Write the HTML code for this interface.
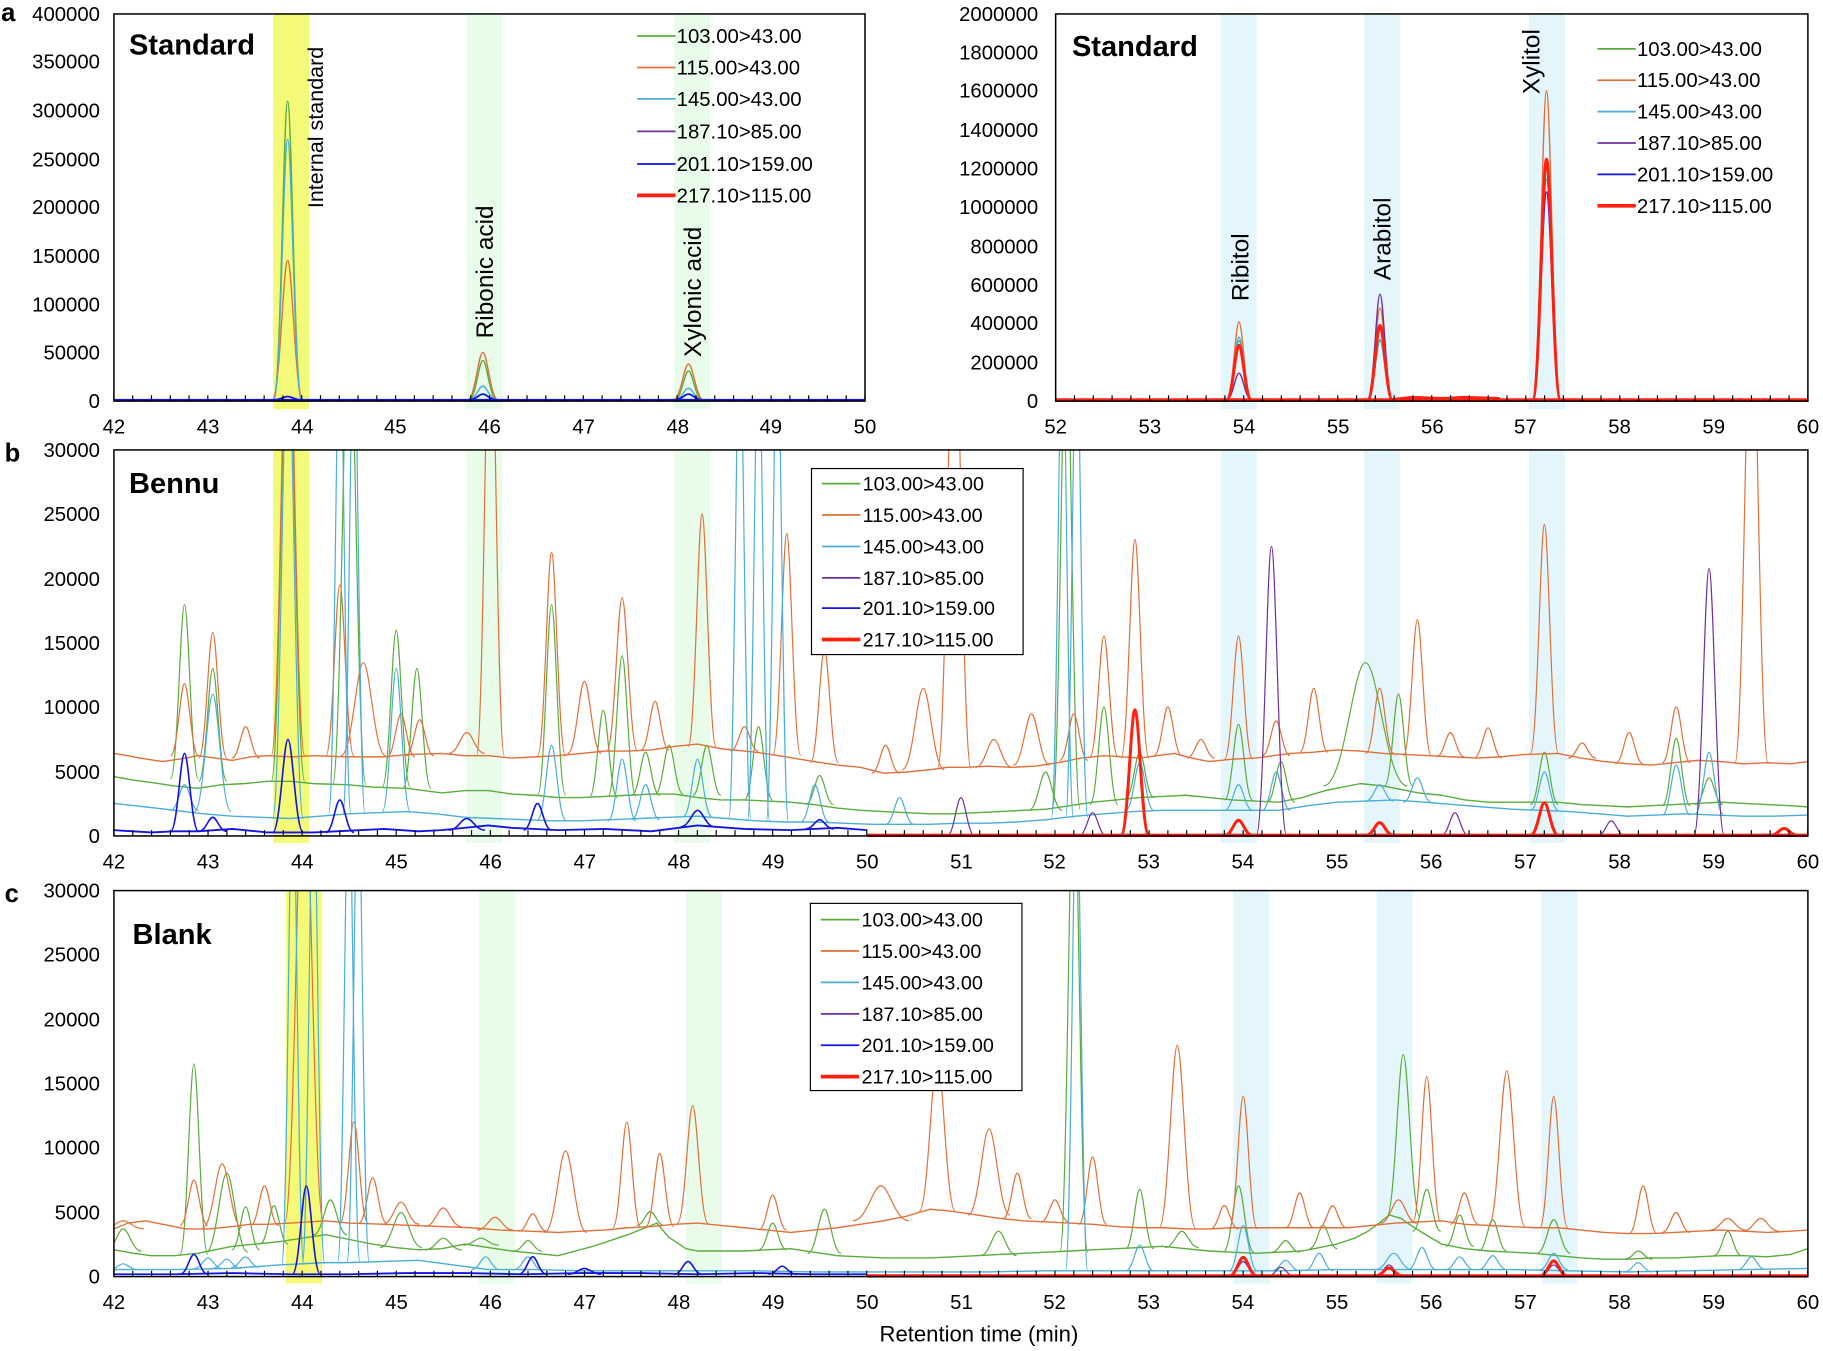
<!DOCTYPE html>
<html><head><meta charset="utf-8">
<style>
html,body{margin:0;padding:0;background:#fff;}
svg{display:block;}
text{font-family:"Liberation Sans",Arial,sans-serif;fill:#000;}
.lg{font-size:17px;}
.nt{font-size:17.5px;}
.ttl{font-size:25px;font-weight:bold;}
.pl{font-size:22px;font-weight:bold;}
.rl{font-size:21px;}
</style></head>
<body>
<svg width="1823" height="1351" viewBox="0 0 1568 1162" xmlns="http://www.w3.org/2000/svg" xmlns:xlink="http://www.w3.org/1999/xlink">
<defs>
<clipPath id="ca1"><rect x="98" y="12" width="646" height="334"/></clipPath>
<clipPath id="ca2"><rect x="908" y="12" width="647" height="334"/></clipPath>
<clipPath id="cb"><rect x="98" y="387" width="1457" height="333"/></clipPath>
<clipPath id="cc"><rect x="98" y="766" width="1457" height="333"/></clipPath>
<path id="k" d="M-12,0 C-6,0 -3.6,-1 0,-1 C3.6,-1 6,0 12,0" fill="none" vector-effect="non-scaling-stroke"/>
</defs>
<!-- bands -->
<rect x="235" y="12" width="31" height="340" fill="#f4fa78"/>
<rect x="401" y="12" width="31" height="340" fill="#e9fbe9"/>
<rect x="580" y="12" width="31" height="340" fill="#e9fbe9"/>
<rect x="1050" y="12" width="31" height="340" fill="#e4f6fb"/>
<rect x="1173" y="12" width="31" height="340" fill="#e4f6fb"/>
<rect x="1315" y="12" width="31" height="340" fill="#e4f6fb"/>
<rect x="235" y="387" width="31" height="338" fill="#f4fa78"/>
<rect x="401" y="387" width="31" height="338" fill="#e9fbe9"/>
<rect x="580" y="387" width="31" height="338" fill="#e9fbe9"/>
<rect x="1050" y="387" width="31" height="338" fill="#e4f6fb"/>
<rect x="1173" y="387" width="31" height="338" fill="#e4f6fb"/>
<rect x="1315" y="387" width="31" height="338" fill="#e4f6fb"/>
<rect x="246" y="766" width="31" height="338" fill="#f4fa78"/>
<rect x="412" y="766" width="31" height="338" fill="#e9fbe9"/>
<rect x="590" y="766" width="31" height="338" fill="#e9fbe9"/>
<rect x="1061" y="766" width="31" height="338" fill="#e4f6fb"/>
<rect x="1184" y="766" width="31" height="338" fill="#e4f6fb"/>
<rect x="1326" y="766" width="31" height="338" fill="#e4f6fb"/>

<!-- ===== Panel a-left ===== -->
<g clip-path="url(#ca1)" fill="none" stroke-width="1.4">
<g stroke="#5aac3c"><use xlink:href="#k" transform="translate(247.4 344) scale(1 257)"/><use xlink:href="#k" transform="translate(415.3 344) scale(1 34)"/><use xlink:href="#k" transform="translate(592.2 344) scale(1 25)"/></g>
<g stroke="#e0703a"><use xlink:href="#k" transform="translate(247.4 344) scale(1.1 120)"/><use xlink:href="#k" transform="translate(415.3 344) scale(1.1 41)"/><use xlink:href="#k" transform="translate(592.2 344) scale(1.1 31)"/></g>
<g stroke="#4aaed8"><use xlink:href="#k" transform="translate(247.4 344) scale(1 224)"/><use xlink:href="#k" transform="translate(415.3 344) scale(1 12)"/><use xlink:href="#k" transform="translate(592.2 344) scale(1 10)"/></g>
<g stroke="#1414e0" stroke-width="1.8"><line x1="98" y1="344" x2="744" y2="344"/><use xlink:href="#k" transform="translate(247.4 344) scale(1 3)"/><use xlink:href="#k" transform="translate(415.3 344) scale(1 5)"/><use xlink:href="#k" transform="translate(592.2 344) scale(1 5)"/></g>
</g>

<!-- ===== Panel a-right ===== -->
<g clip-path="url(#ca2)" fill="none" stroke-width="1.4">
<g stroke="#5aac3c"><use xlink:href="#k" transform="translate(1065.7 344) scale(0.9 51)"/><use xlink:href="#k" transform="translate(1187 344) scale(0.9 51)"/><use xlink:href="#k" transform="translate(1330.2 344) scale(1 190)"/></g>
<g stroke="#e0703a"><use xlink:href="#k" transform="translate(1065.7 344) scale(0.9 67)"/><use xlink:href="#k" transform="translate(1187 344) scale(0.9 79)"/><use xlink:href="#k" transform="translate(1330.2 344) scale(1 266)"/></g>
<g stroke="#4aaed8"><use xlink:href="#k" transform="translate(1065.7 344) scale(0.9 54)"/><use xlink:href="#k" transform="translate(1187 344) scale(0.9 52)"/><use xlink:href="#k" transform="translate(1330.2 344) scale(1 190)"/></g>
<g stroke="#7030a0"><use xlink:href="#k" transform="translate(1065.7 344) scale(0.9 23)"/><use xlink:href="#k" transform="translate(1187 344) scale(0.9 91)"/></g>
<g stroke="#1414e0"><use xlink:href="#k" transform="translate(1330.2 344) scale(1 179)"/></g>
<g stroke="#ff2010" stroke-width="3"><line x1="908" y1="344" x2="1555" y2="344"/><use xlink:href="#k" transform="translate(1065.7 344) scale(0.9 47)"/><use xlink:href="#k" transform="translate(1187 344) scale(0.9 64)"/><use xlink:href="#k" transform="translate(1330.2 344) scale(1 207)"/><polyline points="1195,344 1215,342 1240,343 1260,342 1290,343"/></g>
</g>

<!-- ===== Panel b ===== -->
<g clip-path="url(#cb)" fill="none" stroke-width="1.2" stroke-linejoin="round">
<g stroke="#5aac3c">
<polyline points="98,668 115,671 130,673 150,676 170,678 190,675 210,674 230,672 250,672 270,674 300,675 320,677 350,678 380,682 400,680 420,680 440,683 460,684 480,686 500,686 520,685 540,684 560,683 580,683 600,686 620,688 640,688 660,689 680,690 700,692 720,695 740,697 760,698 780,699 800,700 820,700 840,699 860,698 880,697 900,696 920,693 940,690 960,688 980,686 1000,685 1020,684 1040,686 1060,688 1080,689 1100,690 1120,686 1140,680 1160,676 1170,674 1190,676 1200,678 1220,682 1240,684 1260,688 1280,690 1300,690 1320,690 1340,690 1360,692 1380,693 1400,694 1420,693 1440,692 1460,691 1480,690 1500,691 1520,692 1540,693 1555,694"/>
<use xlink:href="#k" transform="translate(158.7 670) scale(1 150)"/><use xlink:href="#k" transform="translate(183 672) scale(1 97)"/>
<use xlink:href="#k" transform="translate(247.7 672) scale(1.2 420)"/><use xlink:href="#k" transform="translate(300.4 675) scale(1.2 420)"/>
<use xlink:href="#k" transform="translate(340.8 677) scale(1 135)"/><use xlink:href="#k" transform="translate(358.6 678) scale(1 103)"/>
<use xlink:href="#k" transform="translate(474.4 684) scale(1 164)"/><use xlink:href="#k" transform="translate(518.9 686) scale(1 75)"/>
<use xlink:href="#k" transform="translate(535.1 685) scale(1 121)"/><use xlink:href="#k" transform="translate(555.3 684) scale(1 37)"/>
<use xlink:href="#k" transform="translate(575.5 683) scale(1 42)"/><use xlink:href="#k" transform="translate(608 684) scale(1 43)"/>
<use xlink:href="#k" transform="translate(652.4 688) scale(1 63)"/><use xlink:href="#k" transform="translate(705 692) scale(1 25)"/>
<use xlink:href="#k" transform="translate(899.3 697) scale(1.2 33)"/><use xlink:href="#k" transform="translate(917.1 696) scale(1 420)"/>
<use xlink:href="#k" transform="translate(949.5 692) scale(1 84)"/><use xlink:href="#k" transform="translate(980.3 686) scale(1 39)"/>
<use xlink:href="#k" transform="translate(1065.3 688) scale(1 65)"/><use xlink:href="#k" transform="translate(1101.8 690) scale(1 35)"/>
<use xlink:href="#k" transform="translate(1174.5 676) scale(3 106)"/><use xlink:href="#k" transform="translate(1202.9 676) scale(1 79)"/>
<use xlink:href="#k" transform="translate(1328.4 692) scale(1 45)"/><use xlink:href="#k" transform="translate(1441.8 693) scale(1 58)"/>
<use xlink:href="#k" transform="translate(1470 692) scale(1 23)"/>
</g>
<g stroke="#e0703a">
<polyline points="98,648 110,650 120,652 140,655 160,652 170,650 185,652 200,654 215,651 230,650 250,651 270,650 300,651 330,651 350,649 380,648 400,650 420,650 440,652 460,651 480,650 500,648 520,646 540,646 560,645 580,642 600,640 620,644 640,646 650,647 670,650 700,655 720,658 740,660 760,665 780,664 800,662 815,660 830,660 850,659 870,660 890,659 910,656 930,652 950,650 980,652 995,650 1010,648 1025,652 1040,655 1060,653 1080,652 1095,650 1110,648 1130,647 1150,645 1170,646 1190,648 1210,649 1230,650 1250,651 1270,652 1290,651 1310,649 1340,648 1360,652 1380,655 1400,657 1420,658 1440,656 1460,654 1480,655 1500,657 1520,656 1540,657 1555,655"/>
<use xlink:href="#k" transform="translate(158.7 650) scale(1 62)"/><use xlink:href="#k" transform="translate(183 652) scale(1 108)"/>
<use xlink:href="#k" transform="translate(211.3 652) scale(1 27)"/><use xlink:href="#k" transform="translate(247.7 650) scale(1.2 420)"/>
<use xlink:href="#k" transform="translate(292.3 650) scale(1 147)"/><use xlink:href="#k" transform="translate(312.5 650) scale(1.6 80)"/>
<use xlink:href="#k" transform="translate(344.9 651) scale(1 37)"/><use xlink:href="#k" transform="translate(361 650) scale(1 31)"/>
<use xlink:href="#k" transform="translate(401.5 648) scale(1.3 18)"/><use xlink:href="#k" transform="translate(421.8 650) scale(1 420)"/>
<use xlink:href="#k" transform="translate(474.4 650) scale(1 175)"/><use xlink:href="#k" transform="translate(502.7 648) scale(1.2 62)"/>
<use xlink:href="#k" transform="translate(535.1 646) scale(1.1 132)"/><use xlink:href="#k" transform="translate(563.4 645) scale(1 42)"/>
<use xlink:href="#k" transform="translate(603.9 642) scale(1 200)"/><use xlink:href="#k" transform="translate(640.3 646) scale(1 21)"/>
<use xlink:href="#k" transform="translate(676.7 650) scale(1 191)"/><use xlink:href="#k" transform="translate(709.1 656) scale(1 97)"/>
<use xlink:href="#k" transform="translate(761.7 665) scale(1 24)"/><use xlink:href="#k" transform="translate(794.1 662) scale(1.5 70)"/>
<use xlink:href="#k" transform="translate(820.8 661) scale(1.2 420)"/><use xlink:href="#k" transform="translate(854.8 660) scale(1.3 24)"/>
<use xlink:href="#k" transform="translate(887.2 658) scale(1.3 44)"/><use xlink:href="#k" transform="translate(923.6 654) scale(1 40)"/>
<use xlink:href="#k" transform="translate(949.5 651) scale(1 104)"/><use xlink:href="#k" transform="translate(976.2 652) scale(1 188)"/>
<use xlink:href="#k" transform="translate(1004.5 650) scale(1 42)"/><use xlink:href="#k" transform="translate(1032.9 652) scale(1 16)"/>
<use xlink:href="#k" transform="translate(1065.3 653) scale(1 106)"/><use xlink:href="#k" transform="translate(1097.7 650) scale(1 30)"/>
<use xlink:href="#k" transform="translate(1130 647) scale(1 55)"/><use xlink:href="#k" transform="translate(1186.7 648) scale(1 56)"/>
<use xlink:href="#k" transform="translate(1219.1 650) scale(1 117)"/><use xlink:href="#k" transform="translate(1247.5 651) scale(1 21)"/>
<use xlink:href="#k" transform="translate(1279.9 652) scale(1 26)"/><use xlink:href="#k" transform="translate(1328.4 648) scale(1 197)"/>
<use xlink:href="#k" transform="translate(1360.8 652) scale(1 13)"/><use xlink:href="#k" transform="translate(1401.3 657) scale(1 27)"/>
<use xlink:href="#k" transform="translate(1441.8 656) scale(1 48)"/><use xlink:href="#k" transform="translate(1506.5 657) scale(1.2 420)"/>
</g>
<g stroke="#4aaed8">
<polyline points="98,691 125,694 150,697 175,700 200,702 225,703 250,704 275,702 300,700 325,699 350,698 375,700 400,703 425,704 450,705 475,706 500,706 525,705 550,704 575,703 600,702 625,704 650,706 675,707 700,707 725,708 750,709 775,709 800,709 825,708 850,708 875,707 900,705 925,702 950,700 975,698 1000,697 1025,697 1050,697 1075,697 1100,697 1125,693 1150,690 1175,689 1200,688 1225,690 1250,692 1275,694 1300,696 1325,697 1350,698 1375,700 1400,702 1425,701 1450,700 1475,701 1500,702 1525,702 1555,701"/>
<use xlink:href="#k" transform="translate(158.7 697) scale(1 22)"/><use xlink:href="#k" transform="translate(183 698) scale(1.3 101)"/>
<use xlink:href="#k" transform="translate(247.7 704) scale(1.1 420)"/><use xlink:href="#k" transform="translate(292.3 700) scale(0.8 420)"/>
<use xlink:href="#k" transform="translate(304.4 700) scale(0.8 420)"/><use xlink:href="#k" transform="translate(340.8 698) scale(1 123)"/>
<use xlink:href="#k" transform="translate(474.4 705) scale(1 64)"/><use xlink:href="#k" transform="translate(535.1 706) scale(1 53)"/>
<use xlink:href="#k" transform="translate(555.3 705) scale(1 30)"/><use xlink:href="#k" transform="translate(600 702) scale(1 49)"/>
<use xlink:href="#k" transform="translate(636.3 704) scale(0.8 420)"/><use xlink:href="#k" transform="translate(652.4 706) scale(0.8 420)"/>
<use xlink:href="#k" transform="translate(668.6 707) scale(0.8 420)"/><use xlink:href="#k" transform="translate(700.9 707) scale(1 32)"/>
<use xlink:href="#k" transform="translate(773.8 709) scale(1 23)"/><use xlink:href="#k" transform="translate(913.8 704) scale(0.8 420)"/>
<use xlink:href="#k" transform="translate(926 703) scale(0.8 420)"/><use xlink:href="#k" transform="translate(980.3 697) scale(1 41)"/>
<use xlink:href="#k" transform="translate(1065.3 697) scale(1 22)"/><use xlink:href="#k" transform="translate(1097.7 697) scale(1 33)"/>
<use xlink:href="#k" transform="translate(1186.7 689) scale(1 14)"/><use xlink:href="#k" transform="translate(1219.1 690) scale(1 21)"/>
<use xlink:href="#k" transform="translate(1328.4 697) scale(1 33)"/><use xlink:href="#k" transform="translate(1441.8 701) scale(1 43)"/>
<use xlink:href="#k" transform="translate(1470 700) scale(1 53)"/>
</g>
<g stroke="#7030a0">
<line x1="746" y1="719" x2="1555" y2="719"/>
<use xlink:href="#k" transform="translate(826.5 719) scale(1 33)"/><use xlink:href="#k" transform="translate(939.8 719) scale(1 20)"/>
<use xlink:href="#k" transform="translate(1093.6 719) scale(1.1 249)"/><use xlink:href="#k" transform="translate(1251.4 719) scale(1 20)"/>
<use xlink:href="#k" transform="translate(1385.9 719) scale(1 13)"/><use xlink:href="#k" transform="translate(1470 719) scale(1.1 230)"/>
</g>
<g stroke="#1414e0" stroke-width="1.6">
<polyline points="98,714 130,716 150,715 170,715 200,713 230,716 270,716 330,713 360,715 380,714 420,710 440,712 480,714 520,713 560,715 600,710 640,713 680,714 720,712 746,714"/>
<use xlink:href="#k" transform="translate(158.7 715) scale(1 67)"/><use xlink:href="#k" transform="translate(183 715) scale(1 12)"/>
<use xlink:href="#k" transform="translate(247.7 716) scale(1.1 80)"/><use xlink:href="#k" transform="translate(292.3 716) scale(1 28)"/>
<use xlink:href="#k" transform="translate(401.5 714) scale(1.3 10)"/><use xlink:href="#k" transform="translate(462.3 714) scale(1 23)"/>
<use xlink:href="#k" transform="translate(600 711) scale(1.2 14)"/><use xlink:href="#k" transform="translate(705 713) scale(1 8)"/>
</g>
<g stroke="#ff2010" stroke-width="3">
<line x1="746" y1="718.5" x2="1555" y2="718.5"/>
<use xlink:href="#k" transform="translate(976.2 718.5) scale(1 108)"/><use xlink:href="#k" transform="translate(1065.3 718.5) scale(1 13)"/>
<use xlink:href="#k" transform="translate(1186.7 718.5) scale(1 11)"/><use xlink:href="#k" transform="translate(1328.4 718.5) scale(1 28)"/>
<use xlink:href="#k" transform="translate(1534.5 718.5) scale(1 6)"/>
</g>
</g>

<!-- ===== Panel c ===== -->
<g clip-path="url(#cc)" fill="none" stroke-width="1.2" stroke-linejoin="round">
<g stroke="#5aac3c">
<polyline points="98,1075 115,1078 130,1080 150,1080 170,1078 185,1075 200,1072 220,1070 240,1068 260,1065 280,1062 300,1066 320,1070 340,1073 360,1075 380,1074 400,1070 420,1073 440,1076 460,1078 480,1080 495,1076 510,1072 525,1067 540,1062 555,1056 565,1052 575,1064 590,1074 600,1076 620,1076 640,1076 660,1075 680,1074 700,1077 720,1080 740,1081 760,1082 780,1082 800,1082 820,1081 840,1080 860,1079 880,1078 900,1077 920,1076 940,1075 960,1074 980,1073 1000,1072 1020,1074 1040,1076 1060,1077 1080,1078 1100,1077 1120,1076 1135,1073 1150,1070 1165,1065 1175,1060 1185,1053 1195,1045 1205,1048 1215,1055 1228,1063 1240,1070 1260,1074 1280,1076 1300,1077 1320,1078 1340,1080 1360,1082 1380,1083 1400,1083 1420,1082 1440,1082 1460,1081 1480,1080 1500,1080 1520,1081 1540,1079 1555,1074"/>
<use xlink:href="#k" transform="translate(106 1076) scale(1.3 19)"/><use xlink:href="#k" transform="translate(166.8 1079) scale(1 164)"/>
<use xlink:href="#k" transform="translate(195.1 1077) scale(1.5 68)"/><use xlink:href="#k" transform="translate(211.3 1075) scale(1 37)"/>
<use xlink:href="#k" transform="translate(235.6 1070) scale(1 33)"/><use xlink:href="#k" transform="translate(284.2 1062) scale(1.2 30)"/>
<use xlink:href="#k" transform="translate(344.9 1073) scale(1.5 30)"/><use xlink:href="#k" transform="translate(381.3 1075) scale(1.3 10)"/>
<use xlink:href="#k" transform="translate(413.7 1071) scale(1.3 6)"/><use xlink:href="#k" transform="translate(454.2 1076) scale(1 9)"/>
<use xlink:href="#k" transform="translate(559.4 1054) scale(1 12)"/><use xlink:href="#k" transform="translate(664.6 1075) scale(1 23)"/>
<use xlink:href="#k" transform="translate(709.1 1078) scale(1.2 38)"/><use xlink:href="#k" transform="translate(858.8 1080) scale(1.3 21)"/>
<use xlink:href="#k" transform="translate(923.6 1077) scale(1 420)"/><use xlink:href="#k" transform="translate(980.3 1074) scale(1 51)"/>
<use xlink:href="#k" transform="translate(1016.6 1073) scale(1.2 14)"/><use xlink:href="#k" transform="translate(1065.3 1077) scale(1.1 57)"/>
<use xlink:href="#k" transform="translate(1105.8 1077) scale(1 10)"/><use xlink:href="#k" transform="translate(1138.2 1074) scale(1 20)"/>
<use xlink:href="#k" transform="translate(1207 1047) scale(1.2 140)"/><use xlink:href="#k" transform="translate(1227.2 1059) scale(1 36)"/>
<use xlink:href="#k" transform="translate(1255.5 1072) scale(1 27)"/><use xlink:href="#k" transform="translate(1283.9 1076) scale(1 27)"/>
<use xlink:href="#k" transform="translate(1336.4 1078) scale(1.2 29)"/><use xlink:href="#k" transform="translate(1409.3 1083) scale(1 7)"/>
<use xlink:href="#k" transform="translate(1486.1 1080) scale(1 21)"/>
</g>
<g stroke="#e0703a">
<polyline points="98,1057 110,1052 125,1050 140,1053 160,1057 180,1057 200,1055 215,1053 230,1053 250,1052 280,1050 300,1052 330,1053 355,1054 380,1055 405,1056 430,1058 455,1059 480,1060 500,1059 520,1058 540,1056 560,1055 580,1053 600,1052 620,1054 640,1056 660,1058 680,1060 700,1058 720,1056 740,1053 760,1050 780,1046 800,1040 820,1042 840,1045 860,1048 880,1050 900,1051 920,1052 940,1053 960,1055 980,1056 1000,1056 1020,1057 1040,1057 1060,1056 1080,1056 1100,1056 1120,1056 1140,1056 1160,1056 1180,1054 1200,1052 1220,1051 1240,1050 1260,1053 1280,1054 1300,1055 1320,1056 1340,1056 1360,1058 1380,1060 1400,1061 1420,1061 1440,1060 1460,1059 1480,1058 1500,1059 1520,1060 1540,1059 1555,1058"/>
<use xlink:href="#k" transform="translate(106 1057) scale(1.5 7)"/><use xlink:href="#k" transform="translate(166.8 1054) scale(1 39)"/>
<use xlink:href="#k" transform="translate(191.1 1056) scale(1.4 55)"/><use xlink:href="#k" transform="translate(227.5 1054) scale(1 34)"/>
<use xlink:href="#k" transform="translate(261.5 1052) scale(1.4 420)"/><use xlink:href="#k" transform="translate(304.4 1052) scale(1 87)"/>
<use xlink:href="#k" transform="translate(320.6 1052) scale(1 39)"/><use xlink:href="#k" transform="translate(344.9 1053) scale(1.3 19)"/>
<use xlink:href="#k" transform="translate(381.3 1055) scale(1.3 16)"/><use xlink:href="#k" transform="translate(425.8 1058) scale(1.3 11)"/>
<use xlink:href="#k" transform="translate(458.2 1059) scale(1 15)"/><use xlink:href="#k" transform="translate(486.5 1060) scale(1.5 70)"/>
<use xlink:href="#k" transform="translate(539.1 1056) scale(1 91)"/><use xlink:href="#k" transform="translate(567.5 1055) scale(1 63)"/>
<use xlink:href="#k" transform="translate(595.8 1052) scale(1.1 101)"/><use xlink:href="#k" transform="translate(664.6 1058) scale(1 30)"/>
<use xlink:href="#k" transform="translate(757.7 1050) scale(2 30)"/><use xlink:href="#k" transform="translate(806.2 1042) scale(1.3 132)"/>
<use xlink:href="#k" transform="translate(850.7 1045) scale(1.5 74)"/><use xlink:href="#k" transform="translate(875 1048) scale(1 39)"/>
<use xlink:href="#k" transform="translate(907.4 1051) scale(1 19)"/><use xlink:href="#k" transform="translate(939.8 1053) scale(1 58)"/>
<use xlink:href="#k" transform="translate(1012.6 1056) scale(1.3 157)"/><use xlink:href="#k" transform="translate(1053.1 1057) scale(1 20)"/>
<use xlink:href="#k" transform="translate(1069.3 1057) scale(1 114)"/><use xlink:href="#k" transform="translate(1117.9 1056) scale(1 30)"/>
<use xlink:href="#k" transform="translate(1146.2 1056) scale(1 19)"/><use xlink:href="#k" transform="translate(1202.9 1052) scale(1.3 20)"/>
<use xlink:href="#k" transform="translate(1227.2 1051) scale(1 125)"/><use xlink:href="#k" transform="translate(1259.6 1053) scale(1 27)"/>
<use xlink:href="#k" transform="translate(1296 1055) scale(1.3 134)"/><use xlink:href="#k" transform="translate(1336.4 1056) scale(1 113)"/>
<use xlink:href="#k" transform="translate(1413.3 1061) scale(1 41)"/><use xlink:href="#k" transform="translate(1441.6 1060) scale(1 17)"/>
<use xlink:href="#k" transform="translate(1486.1 1058) scale(1.3 10)"/><use xlink:href="#k" transform="translate(1514.5 1059) scale(1.3 11)"/>
</g>
<g stroke="#4aaed8">
<polyline points="98,1092 150,1092 200,1091 240,1088 280,1086 300,1086 330,1085 360,1084 390,1088 420,1092 460,1092 500,1093 550,1093 600,1093 650,1093 700,1094 750,1094 800,1094 850,1094 900,1093 950,1093 1000,1093 1050,1093 1100,1093 1150,1092 1200,1092 1250,1092 1300,1092 1350,1093 1400,1094 1450,1093 1500,1092 1555,1091"/>
<use xlink:href="#k" transform="translate(106 1092) scale(1 5)"/><use xlink:href="#k" transform="translate(179 1091) scale(1 9)"/>
<use xlink:href="#k" transform="translate(195 1091) scale(1 8)"/><use xlink:href="#k" transform="translate(211 1090) scale(1 9)"/>
<use xlink:href="#k" transform="translate(251.8 1088) scale(0.8 420)"/><use xlink:href="#k" transform="translate(269.6 1087) scale(0.8 420)"/>
<use xlink:href="#k" transform="translate(300 1086) scale(0.8 420)"/><use xlink:href="#k" transform="translate(308 1086) scale(0.8 420)"/>
<use xlink:href="#k" transform="translate(417.7 1092) scale(1 11)"/><use xlink:href="#k" transform="translate(454.2 1092) scale(1 11)"/>
<use xlink:href="#k" transform="translate(926 1093) scale(0.8 420)"/><use xlink:href="#k" transform="translate(980.3 1093) scale(1 22)"/>
<use xlink:href="#k" transform="translate(1069.3 1093) scale(1 39)"/><use xlink:href="#k" transform="translate(1105.8 1093) scale(1 9)"/>
<use xlink:href="#k" transform="translate(1134.6 1093) scale(1 15)"/><use xlink:href="#k" transform="translate(1198.8 1092) scale(1.3 14)"/>
<use xlink:href="#k" transform="translate(1223.1 1092) scale(1 19)"/><use xlink:href="#k" transform="translate(1255.5 1092) scale(1 11)"/>
<use xlink:href="#k" transform="translate(1283.9 1092) scale(1 12)"/><use xlink:href="#k" transform="translate(1336.4 1092) scale(1 14)"/>
<use xlink:href="#k" transform="translate(1409 1094) scale(1 8)"/><use xlink:href="#k" transform="translate(1506.5 1092) scale(1 11)"/>
</g>
<g stroke="#7030a0">
<use xlink:href="#k" transform="translate(1069.3 1098) scale(1 13)"/><use xlink:href="#k" transform="translate(1101.8 1098) scale(1 8)"/>
<use xlink:href="#k" transform="translate(1194.7 1098) scale(1 10)"/><use xlink:href="#k" transform="translate(1336.4 1098) scale(1 10)"/>
</g>
<g stroke="#1414e0" stroke-width="1.6">
<polyline points="98,1096 150,1096 200,1095 250,1096 300,1096 350,1095 400,1095 450,1096 500,1095 550,1095 600,1096 650,1095 700,1096 746,1096"/>
<use xlink:href="#k" transform="translate(166.8 1096) scale(1 17)"/><use xlink:href="#k" transform="translate(263.5 1096) scale(1 76)"/>
<use xlink:href="#k" transform="translate(458.2 1096) scale(1 15)"/><use xlink:href="#k" transform="translate(502.7 1096) scale(1.2 5)"/>
<use xlink:href="#k" transform="translate(591.8 1096) scale(1 11)"/><use xlink:href="#k" transform="translate(672.8 1096) scale(1 7)"/>
</g>
<g stroke="#ff2010" stroke-width="3">
<line x1="746" y1="1097.5" x2="1555" y2="1097.5"/>
<use xlink:href="#k" transform="translate(1069.3 1097.5) scale(1 16)"/><use xlink:href="#k" transform="translate(1194.7 1097.5) scale(1 7)"/>
<use xlink:href="#k" transform="translate(1336.4 1097.5) scale(1 13)"/>
</g>
</g>

<!-- frames -->
<g fill="none" stroke="#000" stroke-width="1.3">
<rect x="98" y="12" width="646" height="333"/>
<rect x="908" y="12" width="647" height="333"/>
<rect x="98" y="387" width="1457" height="332"/>
<rect x="98" y="766" width="1457" height="332"/>
</g>
<g stroke="#000" stroke-width="5" fill="none">
<line x1="97.5" y1="342.5" x2="745" y2="342.5" stroke-dasharray="1 15.15"/>
<line x1="907.5" y1="342.5" x2="1556" y2="342.5" stroke-dasharray="1 15.175"/>
<line x1="97.5" y1="716.5" x2="1556" y2="716.5" stroke-dasharray="1 15.188"/>
<line x1="97.5" y1="1095.5" x2="1556" y2="1095.5" stroke-dasharray="1 15.188"/>
</g>

<text class="pl" x="1" y="18">a</text>
<text class="pl" x="4" y="397">b</text>
<text class="pl" x="4" y="776">c</text>
<text class="ttl" x="111" y="47">Standard</text>
<text class="ttl" x="922" y="48">Standard</text>
<text class="ttl" x="111" y="424">Bennu</text>
<text class="ttl" x="114" y="812">Blank</text>

<text style="font-size:18.5px" transform="translate(278,179) rotate(-90)">Internal standard</text>
<text class="rl" transform="translate(424,291) rotate(-90)">Ribonic acid</text>
<text class="rl" transform="translate(603,307) rotate(-90)">Xylonic acid</text>
<text class="rl" transform="translate(1074,259) rotate(-90)">Ribitol</text>
<text class="rl" transform="translate(1196,241) rotate(-90)">Arabitol</text>
<text class="rl" transform="translate(1324,81) rotate(-90)">Xylitol</text>

<g class="nt" text-anchor="end">
<text x="86" y="351">0</text><text x="86" y="309">50000</text><text x="86" y="268">100000</text>
<text x="86" y="226">150000</text><text x="86" y="184">200000</text><text x="86" y="143">250000</text>
<text x="86" y="101">300000</text><text x="86" y="59">350000</text><text x="86" y="18">400000</text>
<text x="893" y="351">0</text><text x="893" y="318">200000</text><text x="893" y="284">400000</text>
<text x="893" y="251">600000</text><text x="893" y="218">800000</text><text x="893" y="184">1000000</text>
<text x="893" y="151">1200000</text><text x="893" y="118">1400000</text><text x="893" y="84">1600000</text>
<text x="893" y="51">1800000</text><text x="893" y="18">2000000</text>
<text x="86" y="725">0</text><text x="86" y="670">5000</text><text x="86" y="614">10000</text>
<text x="86" y="559">15000</text><text x="86" y="504">20000</text><text x="86" y="448">25000</text><text x="86" y="393">30000</text>
<text x="86" y="1104">0</text><text x="86" y="1049">5000</text><text x="86" y="993">10000</text>
<text x="86" y="938">15000</text><text x="86" y="883">20000</text><text x="86" y="827">25000</text><text x="86" y="772">30000</text>
</g>
<g class="nt" text-anchor="middle">
<text x="98" y="373">42</text><text x="179" y="373">43</text><text x="260" y="373">44</text><text x="340" y="373">45</text>
<text x="421" y="373">46</text><text x="502" y="373">47</text><text x="583" y="373">48</text><text x="663" y="373">49</text><text x="744" y="373">50</text>
<text x="908" y="373">52</text><text x="989" y="373">53</text><text x="1070" y="373">54</text><text x="1151" y="373">55</text>
<text x="1232" y="373">56</text><text x="1312" y="373">57</text><text x="1393" y="373">58</text><text x="1474" y="373">59</text><text x="1555" y="373">60</text>
<text x="98" y="747">42</text><text x="179" y="747">43</text><text x="260" y="747">44</text><text x="341" y="747">45</text>
<text x="422" y="747">46</text><text x="503" y="747">47</text><text x="584" y="747">48</text><text x="665" y="747">49</text>
<text x="746" y="747">50</text><text x="827" y="747">51</text><text x="907" y="747">52</text><text x="988" y="747">53</text>
<text x="1069" y="747">54</text><text x="1150" y="747">55</text><text x="1231" y="747">56</text><text x="1312" y="747">57</text>
<text x="1393" y="747">58</text><text x="1474" y="747">59</text><text x="1555" y="747">60</text>
<text x="98" y="1126">42</text><text x="179" y="1126">43</text><text x="260" y="1126">44</text><text x="341" y="1126">45</text>
<text x="422" y="1126">46</text><text x="503" y="1126">47</text><text x="584" y="1126">48</text><text x="665" y="1126">49</text>
<text x="746" y="1126">50</text><text x="827" y="1126">51</text><text x="907" y="1126">52</text><text x="988" y="1126">53</text>
<text x="1069" y="1126">54</text><text x="1150" y="1126">55</text><text x="1231" y="1126">56</text><text x="1312" y="1126">57</text>
<text x="1393" y="1126">58</text><text x="1474" y="1126">59</text><text x="1555" y="1126">60</text>
</g>
<text x="842" y="1154" text-anchor="middle" style="font-size:19px">Retention time (min)</text>

<g stroke-width="1.5">
<line x1="548" y1="31" x2="581" y2="31" stroke="#5aac3c"/><line x1="548" y1="58" x2="581" y2="58" stroke="#e0703a"/>
<line x1="548" y1="85" x2="581" y2="85" stroke="#4aaed8"/><line x1="548" y1="113" x2="581" y2="113" stroke="#7030a0"/>
<line x1="548" y1="141" x2="581" y2="141" stroke="#1414e0"/><line x1="548" y1="168" x2="581" y2="168" stroke="#ff2010" stroke-width="3.2"/>
</g>
<g class="nt"><text x="582" y="37">103.00&gt;43.00</text><text x="582" y="64">115.00&gt;43.00</text><text x="582" y="91">145.00&gt;43.00</text>
<text x="582" y="119">187.10&gt;85.00</text><text x="582" y="147">201.10&gt;159.00</text><text x="582" y="174">217.10&gt;115.00</text></g>
<g stroke-width="1.5">
<line x1="1374" y1="42" x2="1407" y2="42" stroke="#5aac3c"/><line x1="1374" y1="69" x2="1407" y2="69" stroke="#e0703a"/>
<line x1="1374" y1="96" x2="1407" y2="96" stroke="#4aaed8"/><line x1="1374" y1="123" x2="1407" y2="123" stroke="#7030a0"/>
<line x1="1374" y1="150" x2="1407" y2="150" stroke="#1414e0"/><line x1="1374" y1="177" x2="1407" y2="177" stroke="#ff2010" stroke-width="3.2"/>
</g>
<g class="nt"><text x="1408" y="48">103.00&gt;43.00</text><text x="1408" y="75">115.00&gt;43.00</text><text x="1408" y="102">145.00&gt;43.00</text>
<text x="1408" y="129">187.10&gt;85.00</text><text x="1408" y="156">201.10&gt;159.00</text><text x="1408" y="183">217.10&gt;115.00</text></g>

<rect x="698" y="403" width="182" height="160" fill="#fff" stroke="#000" stroke-width="1"/>
<g stroke-width="1.5">
<line x1="707" y1="416" x2="740" y2="416" stroke="#5aac3c"/><line x1="707" y1="443" x2="740" y2="443" stroke="#e0703a"/>
<line x1="707" y1="470" x2="740" y2="470" stroke="#4aaed8"/><line x1="707" y1="497" x2="740" y2="497" stroke="#7030a0"/>
<line x1="707" y1="523" x2="740" y2="523" stroke="#1414e0"/><line x1="707" y1="550" x2="740" y2="550" stroke="#ff2010" stroke-width="3.2"/>
</g>
<g class="lg"><text x="742" y="422">103.00&gt;43.00</text><text x="742" y="449">115.00&gt;43.00</text><text x="742" y="476">145.00&gt;43.00</text>
<text x="742" y="503">187.10&gt;85.00</text><text x="742" y="529">201.10&gt;159.00</text><text x="742" y="556">217.10&gt;115.00</text></g>

<rect x="697" y="777" width="182" height="161" fill="#fff" stroke="#000" stroke-width="1"/>
<g stroke-width="1.5">
<line x1="706" y1="791" x2="739" y2="791" stroke="#5aac3c"/><line x1="706" y1="818" x2="739" y2="818" stroke="#e0703a"/>
<line x1="706" y1="845" x2="739" y2="845" stroke="#4aaed8"/><line x1="706" y1="872" x2="739" y2="872" stroke="#7030a0"/>
<line x1="706" y1="899" x2="739" y2="899" stroke="#1414e0"/><line x1="706" y1="926" x2="739" y2="926" stroke="#ff2010" stroke-width="3.2"/>
</g>
<g class="lg"><text x="741" y="797">103.00&gt;43.00</text><text x="741" y="824">115.00&gt;43.00</text><text x="741" y="851">145.00&gt;43.00</text>
<text x="741" y="878">187.10&gt;85.00</text><text x="741" y="905">201.10&gt;159.00</text><text x="741" y="932">217.10&gt;115.00</text></g>
</svg>
</body></html>
